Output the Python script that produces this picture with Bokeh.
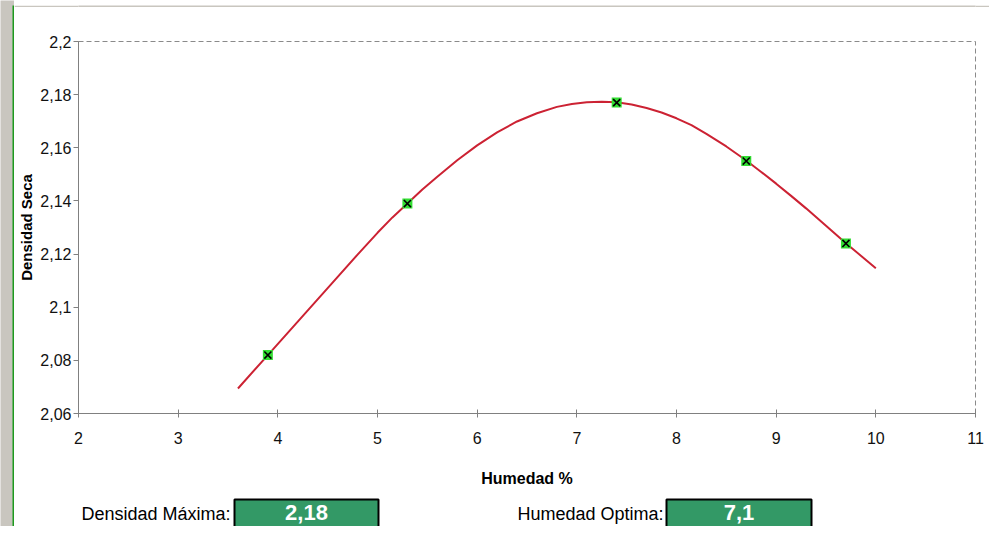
from bokeh.plotting import figure
from bokeh.layouts import column, row
from bokeh.models import FixedTicker, CustomJSTickFormatter, Range1d
from bokeh.core.properties import value
from bokeh.embed import file_html
from bokeh.resources import INLINE

# ---- data ----
humedad = [3.9, 5.3, 7.4, 8.7, 9.7]
densidad = [2.082, 2.139, 2.177, 2.155, 2.124]

# fitted curve
curva_x = [3.6, 3.9, 4.2, 4.5, 4.8, 5.0, 5.15, 5.3, 5.45, 5.6, 5.8, 6.0, 6.2, 6.4,
           6.6, 6.8, 6.95, 7.1, 7.25, 7.4, 7.55, 7.7, 7.85, 8.0, 8.15, 8.3, 8.5,
           8.7, 8.85, 9.0, 9.15, 9.3, 9.5, 9.7, 9.85, 10.0]
curva_y = [2.0694, 2.082, 2.0946, 2.1072, 2.1198, 2.128, 2.1338, 2.139, 2.1443,
           2.1491, 2.1553, 2.1609, 2.1658, 2.1699, 2.1730, 2.1754, 2.1765, 2.1771,
           2.1773, 2.1771, 2.1763, 2.1750, 2.1733, 2.1711, 2.1685, 2.1652, 2.1605,
           2.1552, 2.1509, 2.1465, 2.1419, 2.1372, 2.1307, 2.1241, 2.1194, 2.1147]

x_ticks = [2, 3, 4, 5, 6, 7, 8, 9, 10, 11]
y_ticks = [2.06, 2.08, 2.1, 2.12, 2.14, 2.16, 2.18, 2.2]

etiquetas = ["Densidad Máxima:", "Humedad Optima:"]
resultados = ["2,18", "7,1"]

FONT = "Liberation Sans"
BG = "#c9c6bf"
GREEN_BOX = "#339966"
BORDER_GREEN = "#1e9a1e"

# ---- layout sizes (pixels) ----
TOTAL_W, TOTAL_H = 989, 526
TOP_H = 7          # grey strip + green line on top
LEFT_W = 14        # grey strip + green line on the left
BOTTOM_H = 30      # row with the result fields
CW = TOTAL_W - LEFT_W
CH = TOTAL_H - TOP_H - BOTTOM_H
# chart frame, in page pixels
FL, FR, FT, FB = 78, 975, 41, 413


def blank(w, h, xr, yr, fill="white", bl=0, br=0):
    f = figure(width=w, height=h, x_range=xr, y_range=yr, output_backend="svg",
               toolbar_location=None, x_axis_type=None, y_axis_type=None, title=None,
               min_border=0, min_border_left=bl, min_border_right=br,
               min_border_top=0, min_border_bottom=0)
    f.outline_line_color = None
    f.xgrid.visible = False
    f.ygrid.visible = False
    f.background_fill_color = fill
    f.border_fill_color = fill
    return f


# left strip (grey with green border line), full height including the top band
left = blank(LEFT_W, TOTAL_H, Range1d(0, LEFT_W), Range1d(TOTAL_H, 0), fill=BG)
left.quad(left=[LEFT_W - 2], right=[LEFT_W], top=[TOP_H - 2], bottom=[TOTAL_H],
          fill_color=BORDER_GREEN, line_color=None)

# top band above the chart (grey with green border line)
top = blank(CW, TOP_H, Range1d(0, CW), Range1d(TOP_H, 0), fill=BG)
top.quad(left=[0], right=[CW], top=[TOP_H - 2], bottom=[TOP_H],
         fill_color=BORDER_GREEN, line_color=None)

# ---- chart ----
p = figure(width=CW, height=CH, x_range=Range1d(2, 11), y_range=Range1d(2.06, 2.2),
           output_backend="svg", toolbar_location=None,
           min_border_left=FL - LEFT_W, min_border_right=TOTAL_W - FR,
           min_border_top=FT - TOP_H, min_border_bottom=CH - (FB - TOP_H))
p.border_fill_color = "white"
p.background_fill_color = "white"
p.xgrid.visible = False
p.ygrid.visible = False
p.outline_line_color = "#8a8a8a"
p.outline_line_dash = "5 3"
p.outline_line_width = 1

p.xaxis.ticker = FixedTicker(ticks=x_ticks)
p.yaxis.ticker = FixedTicker(ticks=y_ticks)
p.yaxis.formatter = CustomJSTickFormatter(
    code="return tick.toFixed(2).replace(/0$/, '').replace('.', ',');")
p.xaxis.formatter = CustomJSTickFormatter(code="return tick.toString().replace('.', ',');")
for ax in (p.xaxis[0], p.yaxis[0]):
    ax.axis_line_color = "#808080"
    ax.major_tick_line_color = "#808080"
    ax.minor_tick_line_color = None
    ax.major_label_text_font = FONT
    ax.major_label_text_font_size = "16px"
    ax.major_label_text_color = "#111111"
    ax.axis_label_text_font = FONT
    ax.axis_label_text_font_style = "bold"
    ax.axis_label_text_color = "black"
p.xaxis.axis_label = "Humedad %"
p.xaxis.axis_label_text_font_size = "16px"
p.xaxis.major_tick_in = 4
p.xaxis.major_tick_out = 4
p.xaxis.major_label_standoff = 14
p.xaxis.axis_label_standoff = 23
p.yaxis.axis_label = "Densidad Seca"
p.yaxis.axis_label_text_font_size = "15px"
p.yaxis.major_tick_in = 0
p.yaxis.major_tick_out = 5
p.yaxis.major_label_standoff = 2
p.yaxis.axis_label_standoff = 2

p.line(curva_x, curva_y, line_color="#cc2233", line_width=2)
p.scatter(humedad, densidad, marker="square", size=10, fill_color="#33dd33",
          line_color=None)
p.scatter(humedad, densidad, marker="x", size=10, line_color="black", line_width=1.6)

# ---- bottom row with results (x in page pixels, frame aligned with the chart) ----
bot = blank(CW, BOTTOM_H, Range1d(FL, FR), Range1d(BOTTOM_H, 0),
            bl=FL - LEFT_W, br=TOTAL_W - FR)
label_right = [230, 663]
box_left = [234, 666]
box_right = [378, 811]
box_top = 3
text_mid = 16
bot.text(x=label_right, y=[text_mid + 1] * 2, text=etiquetas, text_align="right",
         text_baseline="middle", text_font=value(FONT), text_font_size="18px",
         text_color="black")
bot.quad(left=box_left, right=box_right, top=[box_top] * 2, bottom=[BOTTOM_H + 10] * 2,
         fill_color=GREEN_BOX, line_color="black", line_width=2)
bot.text(x=[(a + b) / 2 for a, b in zip(box_left, box_right)], y=[text_mid] * 2,
         text=resultados, text_align="center", text_baseline="middle",
         text_font=value(FONT), text_font_size="22px", text_font_style="bold",
         text_color="white")

layout = row(left, column(top, p, bot, spacing=0), spacing=0)

html = file_html(layout, INLINE)
open("out.html", "w").write(html)
